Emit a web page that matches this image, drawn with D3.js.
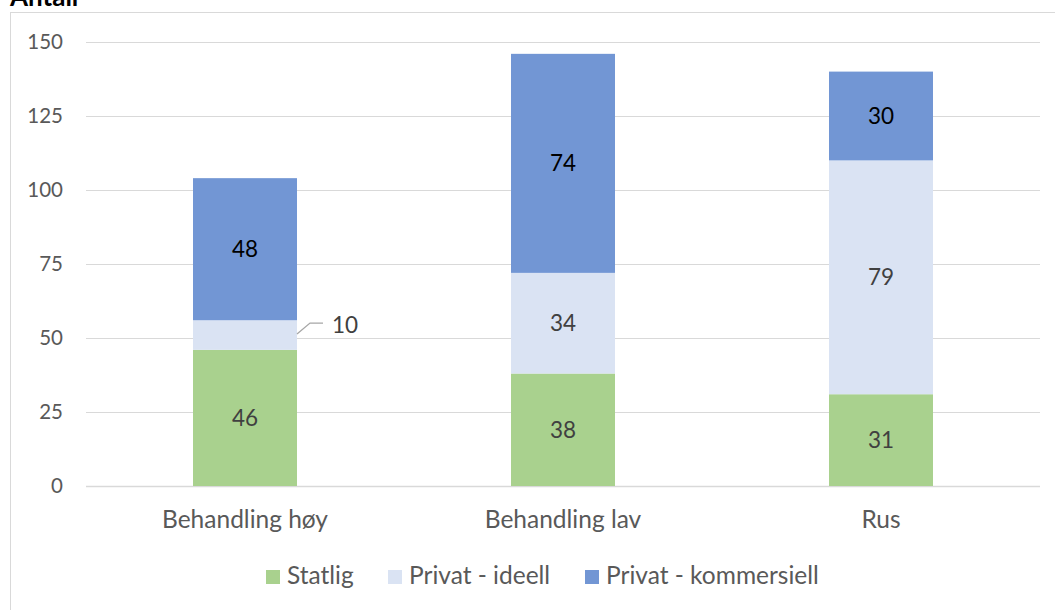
<!DOCTYPE html>
<html>
<head>
<meta charset="utf-8">
<script src="https://cdn.jsdelivr.net/npm/d3@7"></script>
<style>
  body { margin: 0; background: #fff; }
  text { font-family: Lato, "Open Sans", sans-serif; }
</style>
</head>
<body>
<div id="chart"></div>
<script>
const categories = ["Behandling høy", "Behandling lav", "Rus"];
const seriesNames = ["Statlig", "Privat - ideell", "Privat - kommersiell"];
const statlig = [46, 38, 31];
const privatIdeell = [10, 34, 79];
const privatKommersiell = [48, 74, 30];
const yTicks = [0, 25, 50, 75, 100, 125, 150];

const colors = ["#a9d18e", "#dae3f3", "#7296d4"];
const labelColors = ["#404040", "#404040", "#000000"];

const width = 1055, height = 610;
const svg = d3.select("#chart").append("svg")
  .attr("width", width).attr("height", height);

// chart area border
svg.append("rect")
  .attr("x", 10.5).attr("y", 12.5)
  .attr("width", 1100).attr("height", 700)
  .attr("fill", "none").attr("stroke", "#d9d9d9");

// title (partly cut off at top, as in the original)
svg.append("text")
  .attr("x", 10).attr("y", 6)
  .attr("font-weight", "bold").attr("font-size", 26)
  .attr("fill", "#000")
  .text("Antall");

const y = d3.scaleLinear().domain([0, 150]).range([486, 42]);
const x = d3.scaleBand().domain(categories).range([86, 1040])
  .paddingInner(0.673).paddingOuter(0.3365);

// gridlines
svg.append("g").selectAll("line").data(yTicks).join("line")
  .attr("x1", 86).attr("x2", 1040)
  .attr("y1", d => Math.round(y(d)) + 0.5).attr("y2", d => Math.round(y(d)) + 0.5)
  .attr("stroke", "#d9d9d9").attr("stroke-width", d => d === 0 ? 1.5 : 1);

// y tick labels
svg.append("g").selectAll("text").data(yTicks).join("text")
  .attr("x", 63).attr("y", d => y(d))
  .attr("dy", "0.36em").attr("text-anchor", "end")
  .attr("font-size", 20.5).attr("fill", "#595959")
  .text(d => d);

// stack
const rows = categories.map((c, i) => ({
  cat: c, s0: statlig[i], s1: privatIdeell[i], s2: privatKommersiell[i]
}));
const stack = d3.stack().keys(["s0", "s1", "s2"])(rows);

stack.forEach((layer, li) => {
  const g = svg.append("g");
  g.selectAll("rect").data(layer).join("rect")
    .attr("x", d => x(d.data.cat))
    .attr("width", x.bandwidth())
    .attr("y", d => y(d[1]))
    .attr("height", d => y(d[0]) - y(d[1]))
    .attr("fill", colors[li]);

  layer.forEach(d => {
    const v = d[1] - d[0];
    const h = y(d[0]) - y(d[1]);
    const cx = x(d.data.cat) + x.bandwidth() / 2;
    if (h > 40) {
      g.append("text")
        .attr("x", cx).attr("y", (y(d[0]) + y(d[1])) / 2)
        .attr("dy", "0.36em").attr("text-anchor", "middle")
        .attr("font-size", 22.5).attr("fill", labelColors[li])
        .text(v);
    } else {
      // small segment: label outside with leader line
      const right = x(d.data.cat) + x.bandwidth();
      const my = (y(d[0]) + y(d[1])) / 2;
      g.append("path")
        .attr("d", `M${right},${my - 1}L${right + 13},${my - 12}L${right + 26},${my - 12}`)
        .attr("fill", "none").attr("stroke", "#a6a6a6").attr("stroke-width", 1.3);
      g.append("text")
        .attr("x", right + 35).attr("y", my - 10)
        .attr("dy", "0.36em").attr("text-anchor", "start")
        .attr("font-size", 22.5).attr("fill", labelColors[li])
        .text(v);
    }
  });
});

// category labels
svg.append("g").selectAll("text").data(categories).join("text")
  .attr("x", d => x(d) + x.bandwidth() / 2).attr("y", 528)
  .attr("text-anchor", "middle")
  .attr("font-size", 24.5).attr("fill", "#595959")
  .text(d => d);

// legend
const legendX = [266, 388, 585];
const legend = svg.append("g");
seriesNames.forEach((name, i) => {
  legend.append("rect")
    .attr("x", legendX[i]).attr("y", 570)
    .attr("width", 14).attr("height", 14)
    .attr("fill", colors[i]);
  legend.append("text")
    .attr("x", legendX[i] + 21).attr("y", 584)
    .attr("font-size", 24.5).attr("fill", "#595959")
    .text(name);
});
</script>
</body>
</html>
